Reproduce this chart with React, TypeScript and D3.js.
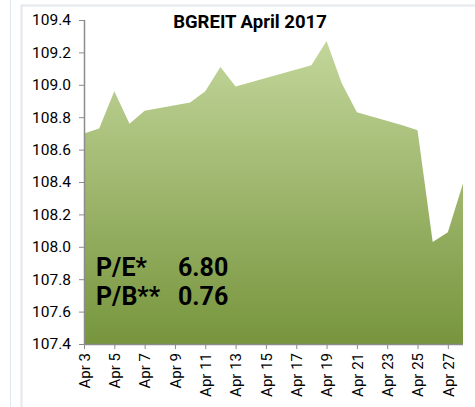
import React, { useEffect, useRef } from 'react';
import * as d3 from 'd3';

// trading days in April 2017 and closing index values
const days = [3, 4, 5, 6, 7, 10, 11, 12, 13, 18, 19, 20, 21, 24, 25, 26, 27, 28];
const values = [
  108.7, 108.73, 108.96, 108.76, 108.84, 108.89, 108.96, 109.11, 108.99,
  109.12, 109.27, 109.01, 108.83, 108.75, 108.72, 108.03, 108.09, 108.39,
];
const tickDays = [3, 5, 7, 9, 11, 13, 15, 17, 19, 21, 23, 25, 27];
const yTicks = [107.4, 107.6, 107.8, 108.0, 108.2, 108.4, 108.6, 108.8, 109.0, 109.2, 109.4];
const ratioLabels = ['P/E*', 'P/B**'];
const ratioValues = ['6.80', '0.76'];

const day = (d: number) => new Date(Date.UTC(2017, 3, d));

const App = () => {
  const ref = useRef<SVGSVGElement>(null);

  useEffect(() => {
    const width = 475,
      height = 407;
    const svg = d3.select(ref.current).attr('width', width).attr('height', height);
    svg.selectAll('*').remove();

    const left = 84,
      right = 463,
      top = 20,
      bottom = 344;

    const x = d3.scaleUtc().domain([day(3), day(28)]).range([left, right]);
    const y = d3.scaleLinear().domain([107.4, 109.4]).range([bottom, top]);

    // outer frame lines
    svg.append('line').attr('x1', 10.5).attr('x2', 10.5).attr('y1', 0).attr('y2', height)
      .attr('stroke', '#dfe7f1');
    svg.append('path').attr('d', `M21.5,${height}V5.5H${width}`)
      .attr('fill', 'none').attr('stroke', '#e3e8ef').attr('stroke-width', 2);

    const defs = svg.append('defs');
    const grad = defs.append('linearGradient').attr('id', 'fillGrad')
      .attr('x1', 0).attr('x2', 0).attr('y1', 0).attr('y2', 1);
    grad.append('stop').attr('offset', '0%').attr('stop-color', '#c3d69b');
    grad.append('stop').attr('offset', '100%').attr('stop-color', '#77953d');

    const data = days.map((d, i) => ({ date: day(d), v: values[i] }));
    const area = d3.area<{ date: Date; v: number }>()
      .x((d) => x(d.date))
      .y0(bottom)
      .y1((d) => y(d.v));
    svg.append('path').datum(data).attr('d', area).attr('fill', 'url(#fillGrad)');

    const font = 'Roboto, "Noto Sans", sans-serif';

    // y axis
    const yAxis = svg.append('g').attr('transform', `translate(${left},0)`)
      .call(d3.axisLeft(y).tickValues(yTicks).tickSize(5).tickPadding(8).tickFormat(d3.format('.1f')));
    yAxis.selectAll('path,line').attr('stroke', '#8c8c8c');
    yAxis.select('.domain').attr('d', `M0.5,${top}V${bottom}`).attr('stroke-width', 1.5);
    yAxis.selectAll('text').attr('font-family', font).attr('font-size', 15.5).attr('fill', '#000');

    // x axis
    const xAxis = svg.append('g').attr('transform', `translate(0,${bottom})`)
      .call(d3.axisBottom(x).tickValues(tickDays.map(day)).tickSize(5)
        .tickFormat((d) => `Apr ${(d as Date).getUTCDate()}`));
    xAxis.selectAll('path,line').attr('stroke', '#8c8c8c');
    xAxis.select('.domain').attr('d', `M${left},0.5H${right}`).attr('stroke-width', 1.5);
    xAxis.selectAll('text')
      .attr('font-family', font).attr('font-size', 15).attr('fill', '#000')
      .attr('transform', 'rotate(-90)')
      .attr('text-anchor', 'end')
      .attr('x', -9).attr('y', 0).attr('dy', '0.35em');

    // title
    svg.append('text').attr('x', 250).attr('y', 28).attr('text-anchor', 'middle')
      .attr('font-family', font).attr('font-weight', 'bold').attr('font-size', 18.5)
      .text('BGREIT April 2017');

    // ratios
    ratioLabels.forEach((t, i) => {
      const g = svg.append('g').attr('font-family', font).attr('font-weight', 'bold')
        .attr('font-size', 25).attr('fill', '#000');
      g.append('text').attr('x', 96).attr('y', 276 + i * 29).text(t);
      g.append('text').attr('x', 178).attr('y', 276 + i * 29).text(ratioValues[i]);
    });
  }, []);

  return <svg ref={ref} style={{ position: 'absolute', left: 0, top: 0 }} />;
};

export default App;
